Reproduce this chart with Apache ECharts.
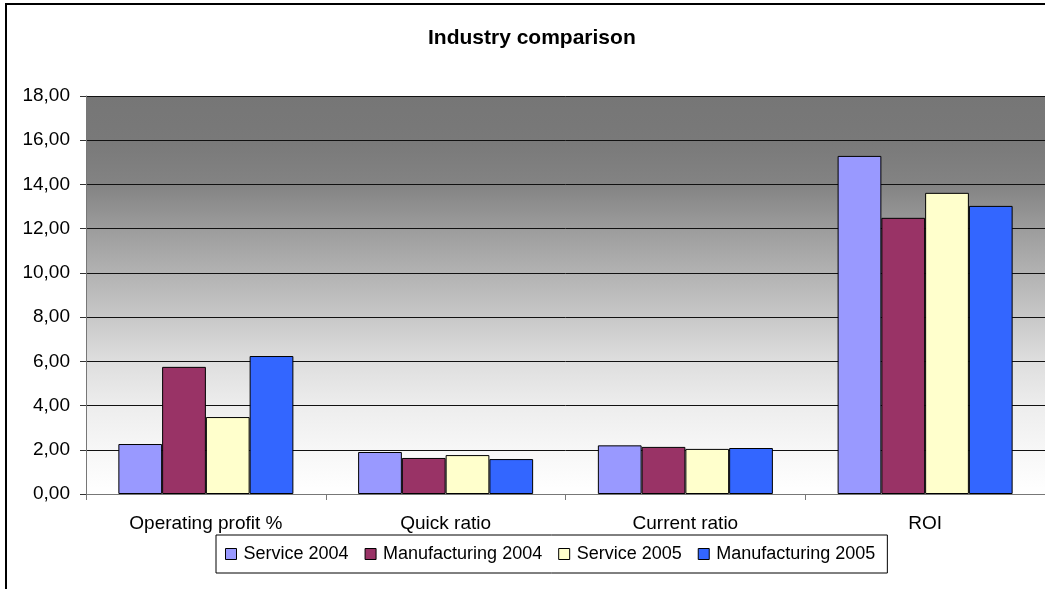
<!DOCTYPE html>
<html><head><meta charset="utf-8">
<script src="https://cdn.jsdelivr.net/npm/echarts@6/dist/echarts.min.js"></script>
<style>
html,body{margin:0;padding:0;background:#fff;overflow:hidden;}
#frame{position:absolute;left:5px;top:3px;width:1100px;height:700px;border-left:2px solid #000;border-top:2px solid #000;}
#c{position:absolute;left:0;top:0;width:1045px;height:589px;}
</style></head>
<body>
<div id="frame"></div>
<div id="c"></div>
<script>
const categories = ['Operating profit %', 'Quick ratio', 'Current ratio', 'ROI'];
const seriesNames = ['Service 2004', 'Manufacturing 2004', 'Service 2005', 'Manufacturing 2005'];
const service2004 = [2.26, 1.90, 2.20, 15.29];
const manufacturing2004 = [5.75, 1.63, 2.13, 12.49];
const service2005 = [3.48, 1.76, 2.04, 13.62];
const manufacturing2005 = [6.24, 1.58, 2.08, 13.03];
const colors = ['#9999FF', '#993366', '#FFFFCC', '#3366FF'];

const seriesData = [service2004, manufacturing2004, service2005, manufacturing2005];
const font = 'Liberation Sans, Arial, sans-serif';
const chart = echarts.init(document.getElementById('c'), null, {renderer:'canvas'});
chart.setOption({
  animation: false,
  title: {
    text: 'Industry comparison', left: 423, top: 23,
    textStyle: {fontFamily: font, fontSize: 21, fontWeight: 'bold', color: '#000'}
  },
  legend: {
    data: seriesNames.map((n,i)=>({name:n, icon:'rect', itemStyle:{color:colors[i], borderColor:'#000', borderWidth:1}})),
    left: 216, bottom: 16,
    itemWidth: 11, itemHeight: 11, itemGap: 16,
    borderColor: '#000', borderWidth: 1, padding: [10, 12, 10, 9],
    textStyle: {fontFamily: font, fontSize: 18, color: '#000', padding:[0,0,0,2]}
  },
  grid: {
    left: 86, top: 96, width: 960, height: 398, show: true, borderWidth: 0,
    backgroundColor: new echarts.graphic.LinearGradient(0,0,0,1,[
      {offset:0, color:'#767676'},
      {offset:0.111, color:'#797979'},
      {offset:0.222, color:'#838383'},
      {offset:0.333, color:'#9c9c9c'},
      {offset:0.444, color:'#b2b2b2'},
      {offset:0.556, color:'#c8c8c8'},
      {offset:0.667, color:'#dedede'},
      {offset:0.778, color:'#ededed'},
      {offset:0.889, color:'#f7f7f7'},
      {offset:1, color:'#ffffff'}
    ])
  },
  xAxis: {
    type: 'category', data: categories,
    axisLine: {lineStyle:{color:'#777', width:1}},
    axisTick: {show:true, length:6, lineStyle:{color:'#777'}},
    axisLabel: {fontFamily: font, fontSize: 19, color:'#000', margin: 20}
  },
  yAxis: {
    type: 'value', min: 0, max: 18, interval: 2,
    axisLine: {show:true, lineStyle:{color:'#777', width:1}},
    axisTick: {show:true, length:6, lineStyle:{color:'#333'}},
    splitLine: {lineStyle:{color:'#111', width:1}},
    axisLabel: {fontFamily: font, fontSize: 19, color:'#000', margin: 16,
      formatter: v => v.toFixed(2).replace('.', ',')}
  },
  series: seriesNames.map((n,i)=>({
    name: n, type: 'bar', data: seriesData[i],
    barGap: '0%', barCategoryGap: '27%',
    itemStyle: {color: colors[i], borderColor: '#000', borderWidth: 1}
  }))
});
</script>
</body></html>
